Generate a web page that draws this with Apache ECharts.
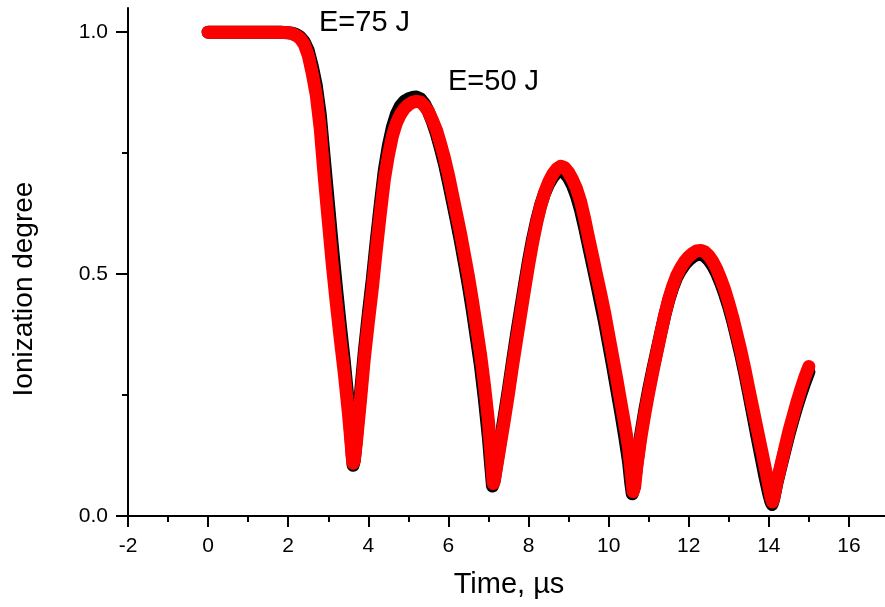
<!DOCTYPE html>
<html><head><meta charset="utf-8">
<script src="https://cdn.jsdelivr.net/npm/echarts@6/dist/echarts.min.js"></script>
<style>html,body{margin:0;padding:0;background:#fff}#c{width:885px;height:607px}</style>
</head><body><div id="c"></div>
<script>
// [time (µs), ionization degree]
// E = 75 J (black)
const pointsE75 = [
[0,1],[0.5,1],[1,1],[1.5,1],[1.8,1],[2.0,0.999],[2.1,0.998],[2.2,0.995],[2.3,0.99],[2.4,0.98],[2.5,0.962],[2.6,0.93],[2.7,0.89],[2.8,0.83],[2.9,0.74],
[3.0,0.65],[3.1,0.56],[3.2,0.475],[3.3,0.395],[3.4,0.32],[3.5,0.235],[3.56,0.17],[3.6,0.125],[3.62,0.105],[3.65,0.115],[3.7,0.16],[3.8,0.25],[3.9,0.34],
[4.0,0.418],[4.1,0.49],[4.2,0.57],[4.3,0.645],[4.4,0.715],[4.5,0.765],[4.6,0.803],[4.7,0.83],[4.8,0.847],[4.9,0.857],
[5.0,0.862],[5.1,0.865],[5.2,0.866],[5.3,0.862],[5.4,0.852],[5.5,0.836],[5.6,0.815],[5.7,0.79],[5.8,0.76],[5.9,0.728],
[6.0,0.69],[6.1,0.65],[6.2,0.61],[6.3,0.568],[6.4,0.522],[6.5,0.475],[6.6,0.423],[6.7,0.367],[6.8,0.31],[6.9,0.24],
[7.0,0.16],[7.05,0.11],[7.1,0.062],[7.14,0.072],[7.2,0.105],[7.3,0.158],[7.4,0.21],[7.5,0.263],[7.6,0.32],[7.7,0.375],[7.8,0.427],[7.9,0.478],
[8.0,0.528],[8.1,0.572],[8.2,0.61],[8.3,0.642],[8.4,0.667],[8.5,0.686],[8.6,0.7],[8.7,0.71],[8.8,0.714],[8.9,0.71],
[9.0,0.699],[9.1,0.683],[9.2,0.661],[9.3,0.632],[9.4,0.596],[9.5,0.557],[9.6,0.519],[9.7,0.48],[9.8,0.44],[9.9,0.4],
[10.0,0.355],[10.1,0.31],[10.2,0.262],[10.3,0.215],[10.4,0.165],[10.5,0.11],[10.55,0.07],[10.59,0.046],[10.63,0.058],[10.7,0.105],[10.8,0.168],[10.9,0.218],
[11.0,0.262],[11.1,0.302],[11.2,0.34],[11.3,0.378],[11.4,0.414],[11.5,0.446],[11.6,0.472],[11.7,0.493],[11.8,0.508],[11.9,0.52],
[12.0,0.529],[12.1,0.536],[12.2,0.54],[12.3,0.541],[12.4,0.537],[12.5,0.529],[12.6,0.517],[12.7,0.501],[12.8,0.481],[12.9,0.458],
[13.0,0.432],[13.1,0.402],[13.2,0.368],[13.3,0.333],[13.4,0.294],[13.5,0.252],[13.6,0.209],[13.7,0.166],[13.8,0.124],[13.9,0.082],
[14.0,0.045],[14.05,0.03],[14.08,0.024],[14.12,0.035],[14.2,0.068],[14.3,0.102],[14.4,0.135],[14.5,0.168],[14.6,0.198],[14.7,0.226],[14.8,0.252],[14.9,0.276],[15.0,0.298]
];
// E = 50 J (red)
const pointsE50 = [
[0,1],[0.5,1],[1,1],[1.5,1],[1.8,1],[2.0,0.999],[2.1,0.997],[2.2,0.993],[2.3,0.987],[2.4,0.975],[2.5,0.952],[2.6,0.915],[2.7,0.87],[2.8,0.8],[2.9,0.7],
[3.0,0.61],[3.1,0.52],[3.2,0.44],[3.3,0.365],[3.4,0.295],[3.5,0.215],[3.56,0.16],[3.6,0.12],[3.62,0.109],[3.65,0.115],[3.7,0.15],[3.8,0.235],[3.9,0.325],
[4.0,0.4],[4.1,0.47],[4.2,0.55],[4.3,0.625],[4.4,0.695],[4.5,0.745],[4.6,0.785],[4.7,0.812],[4.8,0.83],[4.9,0.842],
[5.0,0.85],[5.1,0.855],[5.2,0.857],[5.3,0.856],[5.4,0.848],[5.5,0.836],[5.6,0.818],[5.7,0.798],[5.8,0.77],[5.9,0.74],
[6.0,0.705],[6.1,0.665],[6.2,0.625],[6.3,0.585],[6.4,0.54],[6.5,0.495],[6.6,0.445],[6.7,0.39],[6.8,0.335],[6.9,0.27],
[7.0,0.195],[7.06,0.13],[7.1,0.085],[7.12,0.067],[7.15,0.075],[7.2,0.1],[7.3,0.15],[7.4,0.2],[7.5,0.253],[7.6,0.31],[7.7,0.363],[7.8,0.415],[7.9,0.467],
[8.0,0.518],[8.1,0.564],[8.2,0.605],[8.3,0.64],[8.4,0.668],[8.5,0.69],[8.6,0.706],[8.7,0.717],[8.8,0.723],[8.9,0.72],
[9.0,0.71],[9.1,0.695],[9.2,0.676],[9.3,0.65],[9.4,0.615],[9.5,0.575],[9.6,0.537],[9.7,0.498],[9.8,0.46],[9.9,0.42],
[10.0,0.375],[10.1,0.33],[10.2,0.285],[10.3,0.237],[10.4,0.19],[10.5,0.14],[10.56,0.09],[10.61,0.05],[10.65,0.06],[10.7,0.1],[10.8,0.16],[10.9,0.21],
[11.0,0.255],[11.1,0.297],[11.2,0.337],[11.3,0.376],[11.4,0.415],[11.5,0.448],[11.6,0.475],[11.7,0.497],[11.8,0.513],[11.9,0.526],
[12.0,0.536],[12.1,0.543],[12.2,0.548],[12.3,0.549],[12.4,0.546],[12.5,0.538],[12.6,0.526],[12.7,0.51],[12.8,0.49],[12.9,0.467],
[13.0,0.44],[13.1,0.41],[13.2,0.376],[13.3,0.342],[13.4,0.304],[13.5,0.263],[13.6,0.223],[13.7,0.183],[13.8,0.143],[13.9,0.103],
[14.0,0.062],[14.05,0.04],[14.09,0.029],[14.13,0.04],[14.2,0.07],[14.3,0.105],[14.4,0.14],[14.5,0.175],[14.6,0.205],[14.7,0.235],[14.8,0.262],[14.9,0.287],[15.0,0.309]
];

const xTickValues = [-2, 0, 2, 4, 6, 8, 10, 12, 14, 16];
const xMinorTickValues = [-1, 1, 3, 5, 7, 9, 11, 13, 15];
const yTickValues = [0, 0.5, 1.0];
const yMinorTickValues = [0.25, 0.75];
const seriesNames = ['E=75 J', 'E=50 J'];
const xAxisTitle = 'Time, \u00b5s';
const yAxisTitle = 'Ionization degree';

const FONT = '"Liberation Sans", Arial, sans-serif';

const chart = echarts.init(document.getElementById('c'), null, {renderer: 'canvas'});
const axisLineStyle = {color: '#000', width: 2};
const tickStyle = {color: '#000', width: 2};
const XMIN = -2, XMAX = 16.9, YMIN = 0, YMAX = 1.05;
chart.setOption({
  animation: false,
  backgroundColor: '#fff',
  grid: {left: 128, top: 8, right: 0, height: 508, containLabel: false},
  xAxis: [{
    type: 'value', min: XMIN, max: XMAX,
    axisLine: {show: true, onZero: false, lineStyle: axisLineStyle},
    axisTick: {show: true, length: 11, customValues: xTickValues, lineStyle: tickStyle},
    axisLabel: {margin: 20, color: '#000', fontSize: 21, fontFamily: FONT, customValues: xTickValues},
    splitLine: {show: false}
  }, {
    type: 'value', min: XMIN, max: XMAX, position: 'bottom',
    axisLine: {show: false, onZero: false},
    axisTick: {show: true, length: 6, customValues: xMinorTickValues, lineStyle: tickStyle},
    axisLabel: {show: false},
    splitLine: {show: false}
  }],
  yAxis: [{
    type: 'value', min: YMIN, max: YMAX,
    axisLine: {show: true, onZero: false, lineStyle: axisLineStyle},
    axisTick: {show: true, length: 12, customValues: yTickValues, lineStyle: tickStyle},
    axisLabel: {margin: 20, color: '#000', fontSize: 21, fontFamily: FONT, customValues: yTickValues,
      formatter: v => v.toFixed(1)},
    splitLine: {show: false}
  }, {
    type: 'value', min: YMIN, max: YMAX, position: 'left',
    axisLine: {show: false, onZero: false},
    axisTick: {show: true, length: 6, customValues: yMinorTickValues, lineStyle: tickStyle},
    axisLabel: {show: false},
    splitLine: {show: false}
  }],
  series: [{
    name: seriesNames[0], type: 'line', data: pointsE75,
    showSymbol: false, symbol: 'none', smooth: false,
    lineStyle: {color: '#000', width: 13, cap: 'round', join: 'round'}
  }, {
    name: seriesNames[1], type: 'line', data: pointsE50,
    showSymbol: false, symbol: 'none', smooth: false,
    lineStyle: {color: '#ff0000', width: 13, cap: 'round', join: 'round'}
  }],
  graphic: [
    {type: 'text', x: 319, y: 23, style: {text: seriesNames[0], font: '29px ' + FONT, fill: '#000', textAlign: 'left', textVerticalAlign: 'middle'}},
    {type: 'text', x: 448, y: 82, style: {text: seriesNames[1], font: '29px ' + FONT, fill: '#000', textAlign: 'left', textVerticalAlign: 'middle'}},
    {type: 'text', x: 509, y: 585, style: {text: xAxisTitle, font: '29px ' + FONT, fill: '#000', textAlign: 'center', textVerticalAlign: 'middle'}},
    {type: 'text', x: 24, y: 289, rotation: Math.PI / 2, style: {text: yAxisTitle, font: '28px ' + FONT, fill: '#000', textAlign: 'center', textVerticalAlign: 'middle'}}
  ]
});
</script></body></html>
